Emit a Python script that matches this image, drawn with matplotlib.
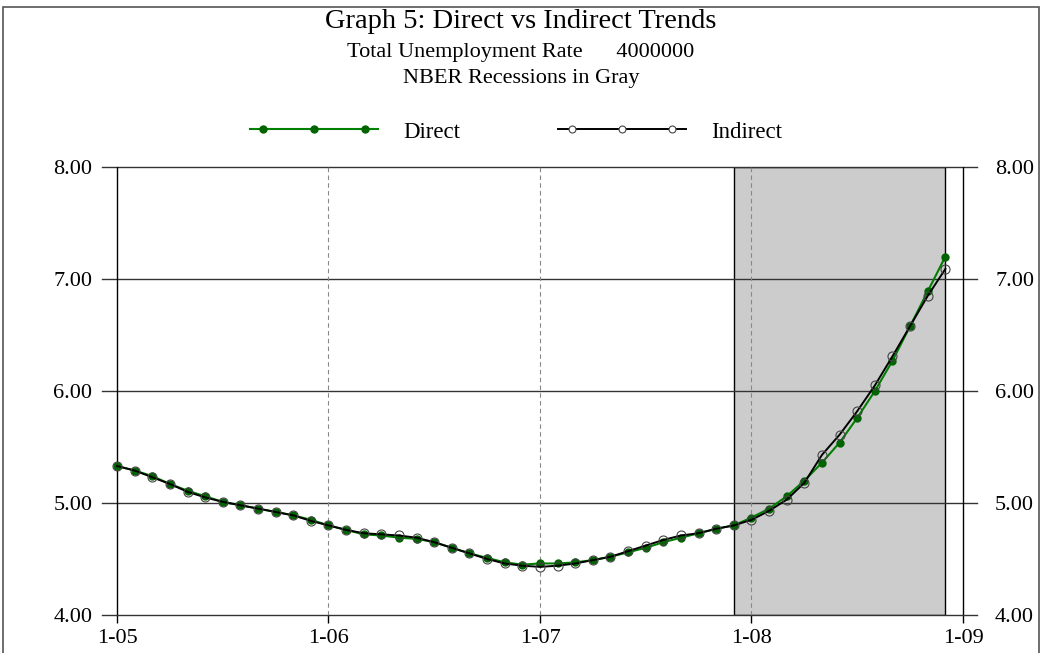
import matplotlib.pyplot as plt
from matplotlib.patches import Rectangle
from matplotlib.lines import Line2D

plt.rcParams['font.family'] = ['Liberation Serif', 'DejaVu Serif']

# monthly values, Jan 2005 .. Dec 2008
direct = [5.33, 5.29, 5.24, 5.17, 5.11, 5.06, 5.01, 4.98, 4.95, 4.92, 4.89, 4.85,
          4.80, 4.76, 4.72, 4.71, 4.69, 4.68, 4.65, 4.60, 4.55, 4.51, 4.47, 4.45,
          4.46, 4.46, 4.47, 4.49, 4.52, 4.56, 4.60, 4.65, 4.69, 4.73, 4.77, 4.80,
          4.87, 4.95, 5.06, 5.20, 5.36, 5.54, 5.76, 6.00, 6.27, 6.58, 6.89, 7.20]
indirect = [5.33, 5.29, 5.23, 5.17, 5.10, 5.05, 5.01, 4.98, 4.95, 4.92, 4.89, 4.84,
            4.80, 4.76, 4.73, 4.72, 4.71, 4.69, 4.65, 4.60, 4.55, 4.50, 4.46, 4.44,
            4.43, 4.44, 4.46, 4.49, 4.52, 4.57, 4.62, 4.67, 4.71, 4.73, 4.77, 4.80,
            4.85, 4.93, 5.03, 5.18, 5.43, 5.61, 5.82, 6.05, 6.31, 6.58, 6.85, 7.09]
months = list(range(len(direct)))

xtick_pos = [0, 12, 24, 36, 48]
xtick_labels = ['1-05', '1-06', '1-07', '1-08', '1-09']
yticks = [4, 5, 6, 7, 8]
recession = (35, 47)  # Dec 2007 .. end of data

W, H = 1042, 653
fig = plt.figure(figsize=(W / 100, H / 100), dpi=100)
ax = fig.add_axes([102 / W, 1 - 615 / H, 875 / W, 448 / H])

# frame around the whole figure
fig.patches.append(Rectangle((3 / W, -0.05), 1036 / W, 1 - 7 / H + 0.05,
                             transform=fig.transFigure, fill=False,
                             edgecolor='#555555', lw=1.2))

ax.axvspan(recession[0], recession[1], facecolor='#cccccc', edgecolor='black', lw=1, zorder=1)

for y in yticks:
    ax.axhline(y, color='#333333', lw=1, clip_on=False, zorder=2)
for x in xtick_pos[1:-1]:
    ax.axvline(x, color='#888888', lw=0.8, ls=(0, (4, 3)), zorder=2)
for x in (xtick_pos[0], xtick_pos[-1]):
    ax.axvline(x, color='black', lw=1, zorder=2)

ax.plot(months, direct, color='#008000', lw=1.5, marker='o', ms=5,
        mfc='#006400', mec='#006400', zorder=3)
ax.plot(months, indirect, color='black', lw=1.4, marker='o', ms=6.5,
        mfc='none', mec='#444444', mew=0.8, zorder=4)

ax.set_xlim(-15 / 17.625, 48 + 14 / 17.625)
ax.set_ylim(4, 8)
for s in ax.spines.values():
    s.set_visible(False)

ax.set_xticks(xtick_pos)
ax.set_xticklabels(xtick_labels)
ax.tick_params(axis='x', length=6, width=1, color='black', pad=4, labelsize=16)
ax.set_yticks(yticks)
ax.set_yticklabels(['%.2f' % v for v in yticks])
ax.tick_params(axis='y', length=0, pad=7, labelsize=16)

ax2 = ax.twinx()
ax2.set_ylim(4, 8)
ax2.set_yticks(yticks)
ax2.set_yticklabels(['%.2f' % v for v in yticks])
ax2.tick_params(axis='y', length=0, pad=13, labelsize=16)
for s in ax2.spines.values():
    s.set_visible(False)

fig.text(0.5, 1 - 22 / H, 'Graph 5: Direct vs Indirect Trends', ha='center', va='center', fontsize=20.5)
fig.text(0.5, 1 - 52 / H, 'Total Unemployment Rate      4000000', ha='center', va='center', fontsize=16)
fig.text(0.5, 1 - 78 / H, 'NBER Recessions in Gray', ha='center', va='center', fontsize=16)

# legend drawn by hand (line runs past the outer markers)
ly = 1 - 129 / H
ty = 1 - 132 / H
fig.add_artist(Line2D([250 / W, 378 / W], [ly, ly], transform=fig.transFigure, color='#008000', lw=1.5))
fig.add_artist(Line2D([263 / W, 314 / W, 365 / W], [ly] * 3, transform=fig.transFigure, ls='none',
                      marker='o', ms=5, mfc='#006400', mec='#006400'))
fig.text(403 / W, ty, 'Direct', ha='left', va='center', fontsize=16.5)
fig.add_artist(Line2D([558 / W, 686 / W], [ly, ly], transform=fig.transFigure, color='black', lw=1.4))
fig.add_artist(Line2D([572 / W, 622 / W, 672 / W], [ly] * 3, transform=fig.transFigure, ls='none',
                      marker='o', ms=5, mfc='white', mec='#444444', mew=0.8))
fig.text(711 / W, ty, 'Indirect', ha='left', va='center', fontsize=16.5)

plt.savefig('out.png', dpi=100)
